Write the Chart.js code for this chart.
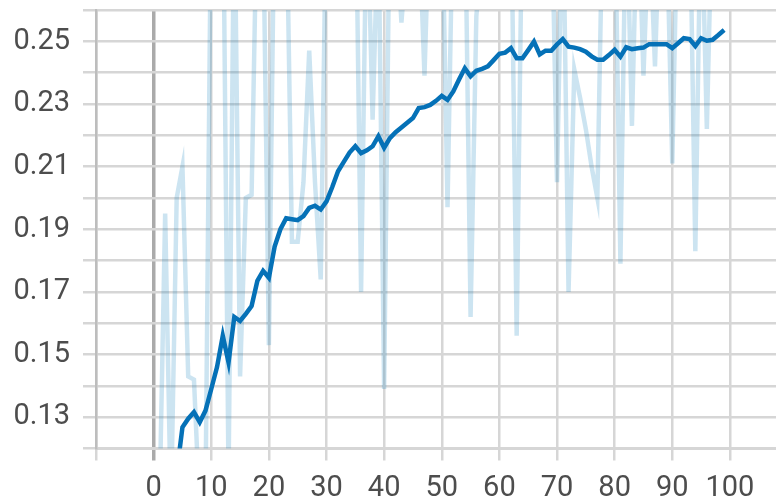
<!DOCTYPE html>
<html>
<head>
<meta charset="utf-8">
<script src="https://cdn.jsdelivr.net/npm/chart.js@4/dist/chart.umd.min.js"></script>
<style>
  html, body { margin: 0; padding: 0; background: #fff; }
  #wrap { width: 776px; height: 501px; }
</style>
</head>
<body>
<div id="wrap"><canvas id="myChart"></canvas></div>
<script>
// --- dados ---
const steps = [];
for (let i = 0; i < 100; i++) steps.push(i);

const rawValues = [
    0.095, 0.100, 0.195, 0.100, 0.200, 0.210, 0.143, 0.142, 0.100, 0.105,
    0.300, 0.290, 0.310, 0.110, 0.300, 0.143, 0.200, 0.201, 0.300, 0.290,
    0.153, 0.300, 0.290, 0.300, 0.186, 0.186, 0.205, 0.247, 0.205, 0.174,
    0.300, 0.310, 0.300, 0.290, 0.300, 0.310, 0.170, 0.300, 0.225, 0.290,
    0.139, 0.300, 0.290, 0.256, 0.280, 0.300, 0.290, 0.239, 0.300, 0.310,
    0.300, 0.197, 0.300, 0.310, 0.300, 0.162, 0.258, 0.280, 0.300, 0.310,
    0.300, 0.290, 0.300, 0.156, 0.300, 0.290, 0.340, 0.300, 0.290, 0.300,
    0.205, 0.300, 0.170, 0.241, 0.232, 0.222, 0.210, 0.200, 0.300, 0.290,
    0.300, 0.179, 0.300, 0.223, 0.300, 0.239, 0.290, 0.242, 0.300, 0.290,
    0.211, 0.300, 0.310, 0.300, 0.183, 0.300, 0.222, 0.300, 0.290, 0.300
];

const smoothValues = [
    0.095, 0.098, 0.102, 0.106, 0.112, 0.1268, 0.1295, 0.1316, 0.1284, 0.1321,
    0.139, 0.146, 0.156, 0.1475, 0.162, 0.1607, 0.163, 0.1655, 0.1735, 0.1767,
    0.1745, 0.1845, 0.190, 0.1935, 0.1932, 0.1929, 0.1942, 0.1968, 0.1975, 0.1963,
    0.1989, 0.2035, 0.2085, 0.2115, 0.2145, 0.2165, 0.2143, 0.2152, 0.2165, 0.2197,
    0.2160, 0.2191, 0.2210, 0.2225, 0.2240, 0.2255, 0.2287, 0.2290, 0.2297, 0.2310,
    0.2326, 0.2313, 0.2340, 0.2378, 0.2414, 0.2388, 0.2406, 0.2412, 0.2420, 0.2440,
    0.2460, 0.2464, 0.2478, 0.2446, 0.2446, 0.2472, 0.2499, 0.2458, 0.2470, 0.2470,
    0.2490, 0.2507, 0.2483, 0.2480, 0.2475, 0.2467, 0.2452, 0.2441, 0.2441, 0.2456,
    0.2473, 0.2451, 0.2481, 0.2475, 0.2478, 0.2480, 0.2491, 0.2491, 0.2491, 0.2491,
    0.2478, 0.2494, 0.2510, 0.2507, 0.2485, 0.2510, 0.2502, 0.2505, 0.2520, 0.2536
];

const xTickStep = 10;
const yTickStep = 0.01;

// --- cores ---
const gridColor = '#d6d6d6';
const zeroColor = '#aaaaaa';
const axisColor = '#bdbdbd';
const textColor = '#4d4d4d';

const toPoints = (vals) => steps.map((s, i) => ({ x: s, y: vals[i] }));

const ctx = document.getElementById('myChart').getContext('2d');
new Chart(ctx, {
    type: 'line',
    data: {
        datasets: [
            {
                label: 'smoothed',
                data: toPoints(smoothValues),
                borderColor: '#0571b7',
                borderWidth: 4.5,
                pointRadius: 0,
                tension: 0,
                order: 1
            },
            {
                label: 'raw',
                data: toPoints(rawValues),
                borderColor: 'rgba(0, 119, 187, 0.2)',
                borderWidth: 4.5,
                pointRadius: 0,
                tension: 0,
                order: 2
            }
        ]
    },
    options: {
        responsive: true,
        maintainAspectRatio: false,
        animation: false,
        layout: { padding: 0 },
        plugins: {
            legend: { display: false },
            tooltip: { enabled: false }
        },
        scales: {
            x: {
                type: 'linear',
                min: -10,
                max: 108,
                border: { display: true, color: gridColor, width: 2 },
                grid: {
                    color: (c) => (c.tick && c.tick.value === 0 ? zeroColor : gridColor),
                    lineWidth: (c) => (c.tick && c.tick.value === 0 ? 3.5 : 2.5),
                    tickLength: 12
                },
                ticks: {
                    stepSize: xTickStep,
                    includeBounds: false,
                    autoSkip: false,
                    maxRotation: 0,
                    padding: 11,
                    color: textColor,
                    font: { family: 'Roboto', size: 29 },
                    callback: (v) => (v < 0 ? '' : String(v))
                },
                afterFit: (scale) => {
                    scale.height = 52.5;
                    scale.paddingLeft = 0;
                    scale.paddingRight = 0;
                }
            },
            y: {
                min: 0.12,
                max: 0.26,
                border: { display: true, color: axisColor, width: 2.5 },
                grid: {
                    color: gridColor,
                    lineWidth: 2.5,
                    tickLength: 13
                },
                ticks: {
                    stepSize: yTickStep,
                    autoSkip: false,
                    padding: 13,
                    color: textColor,
                    font: { family: 'Roboto', size: 29 },
                    callback: (v) => (Math.round(v * 100) % 2 === 1 ? v.toFixed(2) : '')
                },
                afterFit: (scale) => {
                    scale.width = 96;
                    scale.paddingTop = 10;
                    scale.paddingBottom = 0;
                }
            }
        }
    }
});
</script>
</body>
</html>
